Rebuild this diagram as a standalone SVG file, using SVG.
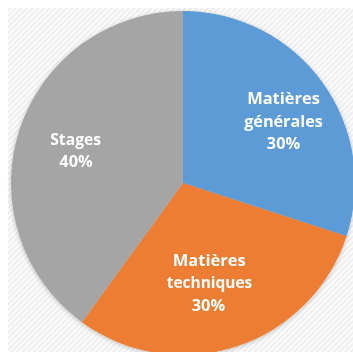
<svg xmlns="http://www.w3.org/2000/svg" width="353" height="352" viewBox="0 0 353 352">
  <defs>
    <pattern id="hatch" width="4" height="4" patternUnits="userSpaceOnUse" patternTransform="rotate(45)">
      <rect width="4" height="4" fill="#fbfbfb"/>
      <rect width="1.6" height="4" fill="#ececec"/>
    </pattern>
    <filter id="shadow" x="-10%" y="-10%" width="120%" height="120%">
      <feGaussianBlur in="SourceAlpha" stdDeviation="2"/>
      <feOffset dx="0" dy="1" result="b"/>
      <feComponentTransfer><feFuncA type="linear" slope="0.25"/></feComponentTransfer>
      <feMerge><feMergeNode/><feMergeNode in="SourceGraphic"/></feMerge>
    </filter>
  </defs>
  <style>
    .lbl { font-family: "Open Sans", "Liberation Sans", sans-serif; font-weight: 700; font-size: 16.5px; fill: #ffffff; text-anchor: middle; }
  </style>
  <rect x="0" y="0" width="353" height="352" fill="#ffffff"/>
  <rect x="8" y="8" width="345" height="344" fill="url(#hatch)"/>
  <g id="pie" filter="url(#shadow)">
    <g id="generales">
      <path d="M183,183 L183,11 A172,172 0 0,1 346.58,236.15 Z" fill="#5B9BD5"/>
      <text class="lbl" x="283.5" y="104" textLength="72.7" lengthAdjust="spacingAndGlyphs">Matières</text>
      <text class="lbl" x="283.5" y="126.7" textLength="78.7" lengthAdjust="spacingAndGlyphs">générales</text>
      <text class="lbl" x="283.5" y="149" textLength="33.3" lengthAdjust="spacingAndGlyphs">30%</text>
    </g>
    <g id="techniques">
      <path d="M183,183 L346.58,236.15 A172,172 0 0,1 81.90,322.15 Z" fill="#ED7D31"/>
      <text class="lbl" x="209.3" y="265.7" textLength="73" lengthAdjust="spacingAndGlyphs">Matières</text>
      <text class="lbl" x="209.5" y="288.3" textLength="85.6" lengthAdjust="spacingAndGlyphs">techniques</text>
      <text class="lbl" x="208.4" y="310.7" textLength="33.3" lengthAdjust="spacingAndGlyphs">30%</text>
    </g>
    <g id="stages">
      <path d="M183,183 L81.90,322.15 A172,172 0 0,1 183,11 Z" fill="#A5A5A5"/>
      <text class="lbl" x="75.7" y="144.5" textLength="51" lengthAdjust="spacingAndGlyphs">Stages</text>
      <text class="lbl" x="76" y="166.7" textLength="33.3" lengthAdjust="spacingAndGlyphs">40%</text>
    </g>
  </g>
  <g id="connectors"/>
</svg>
